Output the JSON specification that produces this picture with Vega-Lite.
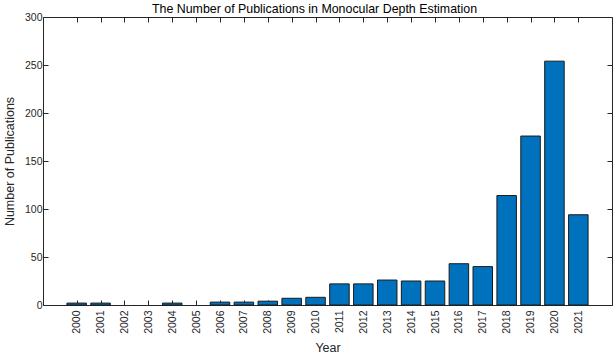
{
  "$schema": "https://vega.github.io/schema/vega-lite/v6.json",
  "width": 569,
  "height": 288,
  "autosize": {"type": "none"},
  "padding": {"left": 43, "top": 17, "right": 2, "bottom": 49},
  "background": "white",
  "title": {"text": "The Number of Publications in Monocular Depth Estimation", "fontSize": 12.4, "fontWeight": "normal", "font": "Liberation Sans", "color": "#000000", "offset": -3, "dx": -13},
  "data": {"values": [
    {"Year": 2000, "Count": 2},
    {"Year": 2001, "Count": 2},
    {"Year": 2002, "Count": 0},
    {"Year": 2003, "Count": 0},
    {"Year": 2004, "Count": 2},
    {"Year": 2005, "Count": 0},
    {"Year": 2006, "Count": 3},
    {"Year": 2007, "Count": 3},
    {"Year": 2008, "Count": 4},
    {"Year": 2009, "Count": 7},
    {"Year": 2010, "Count": 8},
    {"Year": 2011, "Count": 22},
    {"Year": 2012, "Count": 22},
    {"Year": 2013, "Count": 26},
    {"Year": 2014, "Count": 25},
    {"Year": 2015, "Count": 25},
    {"Year": 2016, "Count": 43},
    {"Year": 2017, "Count": 40},
    {"Year": 2018, "Count": 114},
    {"Year": 2019, "Count": 176},
    {"Year": 2020, "Count": 254},
    {"Year": 2021, "Count": 94}
  ]},
  "layer": [
    {
      "transform": [{"filter": "datum.Count > 0"}],
      "mark": {"type": "bar", "size": 19.5, "fill": "#0072BD", "stroke": "#1a1a1a", "strokeWidth": 1},
      "encoding": {
        "x": {"field": "Year", "type": "quantitative",
              "scale": {"domain": [1998.8, 2022.2], "nice": false, "zero": false},
              "axis": {"values": [2000,2001,2002,2003,2004,2005,2006,2007,2008,2009,2010,2011,2012,2013,2014,2015,2016,2017,2018,2019,2020,2021],
                       "format": "d", "labelAngle": -90, "labelAlign": "right", "labelBaseline": "middle",
                       "title": "Year", "titlePadding": 8, "labelPadding": 10, "orient": "bottom"}},
        "y": {"field": "Count", "type": "quantitative",
              "scale": {"domain": [0, 300], "nice": false},
              "axis": {"values": [0,50,100,150,200,250,300], "title": "Number of Publications", "titlePadding": 8, "labelPadding": 6, "orient": "left"}}
      }
    },
    {
      "mark": {"type": "bar", "size": 19.5, "opacity": 0},
      "encoding": {
        "x": {"field": "Year", "type": "quantitative",
              "axis": {"values": [2000,2001,2002,2003,2004,2005,2006,2007,2008,2009,2010,2011,2012,2013,2014,2015,2016,2017,2018,2019,2020,2021],
                       "labels": false, "title": null, "orient": "top"}},
        "y": {"field": "Count", "type": "quantitative",
              "axis": {"values": [0,50,100,150,200,250,300], "labels": false, "title": null, "orient": "right"}}
      }
    }
  ],
  "resolve": {"axis": {"x": "independent", "y": "independent"}},
  "config": {
    "view": {"stroke": null},
    "axis": {
      "grid": false,
      "domainColor": "#262626",
      "domainWidth": 1,
      "tickColor": "#262626",
      "tickSize": -5,
      "tickWidth": 1,
      "zindex": 1,
      "labelFont": "Liberation Sans",
      "labelFontSize": 10.5,
      "labelColor": "#262626",
      "titleFont": "Liberation Sans",
      "titleFontSize": 12.5,
      "titleFontWeight": "normal",
      "titleColor": "#262626"
    }
  }
}
